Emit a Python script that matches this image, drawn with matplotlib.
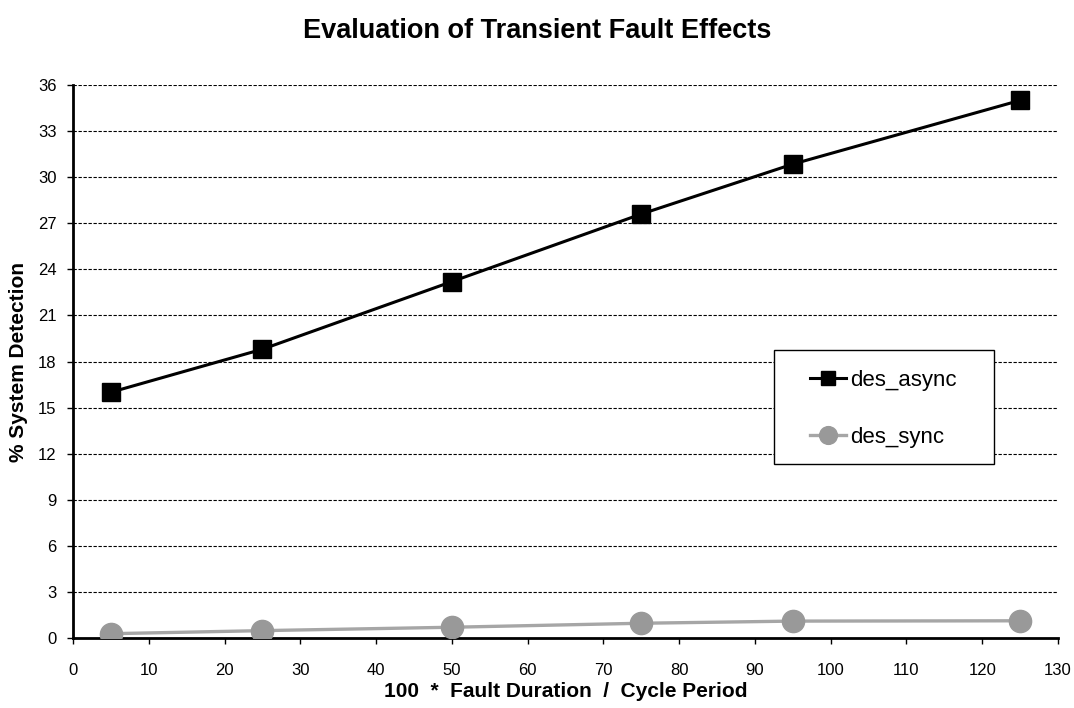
import matplotlib
matplotlib.use('Agg')
import matplotlib.pyplot as plt
from matplotlib.patches import Rectangle

plt.rcParams['font.family'] = ['Liberation Sans', 'DejaVu Sans']

x = [5, 25, 50, 75, 95, 125]
des_async = [16.0, 18.8, 23.2, 27.6, 30.85, 35.0]
des_sync = [0.28, 0.48, 0.7, 0.96, 1.1, 1.12]

fig = plt.figure(figsize=(10.74, 7.08), dpi=100)
ax = fig.add_axes([73/1074, 1-638/708, 985/1074, 553/708])

ax.plot(x, des_async, color='black', lw=2.2, marker='s', markersize=13, label='des_async', zorder=3)
ax.plot(x, des_sync, color='#a6a6a6', lw=2.4, marker='o', markersize=16,
        markerfacecolor='#999999', markeredgecolor='#999999', label='des_sync', zorder=3)

ax.set_xlim(0, 130)
ax.set_ylim(0, 36)
ax.set_xticks(range(0, 131, 10))
ax.set_yticks(range(0, 37, 3))
ax.yaxis.grid(True, linestyle=(0, (3, 1.5)), color='black', lw=0.8)
ax.set_axisbelow(True)
for s in ['top', 'right']:
    ax.spines[s].set_visible(False)
for s in ['left', 'bottom']:
    ax.spines[s].set_linewidth(2)
ax.tick_params(axis='x', direction='out', length=4, width=1, labelsize=12, pad=14)
ax.tick_params(axis='y', direction='out', length=4, width=1, labelsize=12, pad=8)

ax.set_xlabel('100  *  Fault Duration  /  Cycle Period', fontsize=15, fontweight='bold', labelpad=3)
ax.set_ylabel('% System Detection', fontsize=15, fontweight='bold', labelpad=7)
fig.text(0.5, 1-31/708, 'Evaluation of Transient Fault Effects', ha='center', va='center',
         fontsize=19.5, fontweight='bold')

# legend box drawn separately so its padding can match the reference
ax.add_patch(Rectangle((0.7117, 0.3146), 0.2233, 0.2062, transform=ax.transAxes,
                       facecolor='white', edgecolor='black', lw=1, zorder=4))
leg = ax.legend(loc='upper left', bbox_to_anchor=((810-73)/985, (638-370)/553), fontsize=16,
                frameon=False, borderpad=0, labelspacing=1.62, handlelength=1.6,
                handletextpad=0.2, borderaxespad=0, markerscale=0.8)
leg.set_zorder(5)

fig.savefig('out.png', dpi=100)
